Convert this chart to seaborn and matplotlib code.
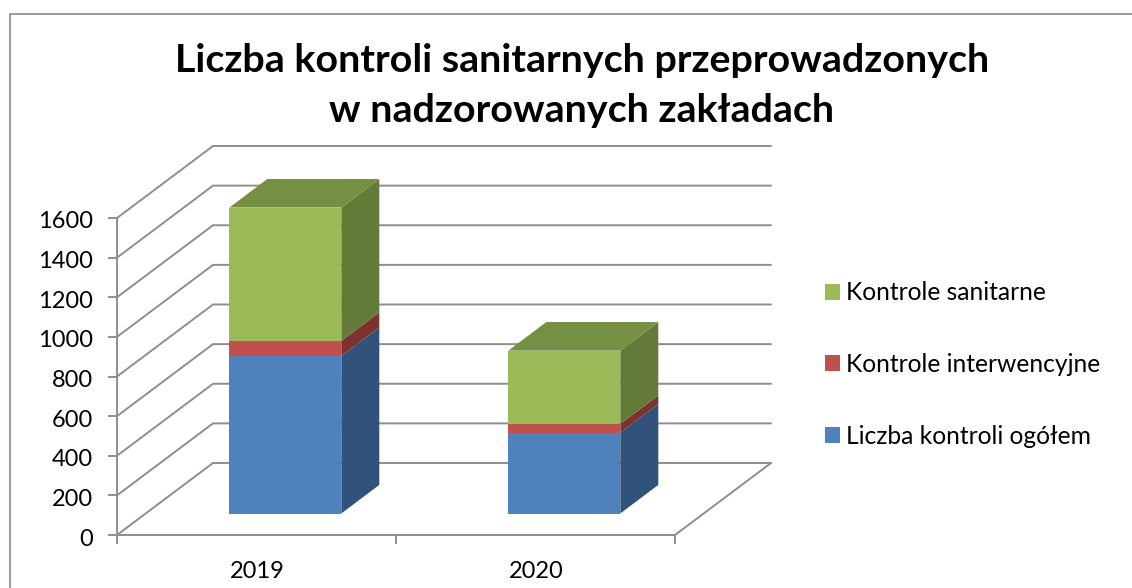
import matplotlib
matplotlib.use("Agg")
import matplotlib.pyplot as plt
from matplotlib.lines import Line2D
from matplotlib.transforms import Affine2D
import pandas as pd
import seaborn as sns

years = ["2019", "2020"]
series_names = ["Liczba kontroli ogółem", "Kontrole interwencyjne", "Kontrole sanitarne"]
total_checks = [795, 408]
intervention_checks = [76, 44]
sanitary_checks = [673, 370]
y_ticks = [0, 200, 400, 600, 800, 1000, 1200, 1400, 1600]
title_lines = "Liczba kontroli sanitarnych przeprowadzonych\nw nadzorowanych zakładach"

front_colors = ["#4F81BD", "#C0504D", "#9BBB59"]
side_colors = ["#31527A", "#7C3330", "#647A38"]
top_color = "#769043"
grid_color = "#8E8E8E"

W, H = 1132, 588
sns.set_theme(style="white")
plt.rcParams["font.family"] = ["Lato", "DejaVu Sans"]

fig = plt.figure(figsize=(W / 100, H / 100), dpi=100, facecolor="white")


def rect(left, right, top, bottom):
    return [left / W, 1 - bottom / H, (right - left) / W, (bottom - top) / H]


ax = fig.add_axes(rect(117, 675, 218, 535))
ax.set_xlim(-0.5, 1.5)
ax.set_ylim(0, 1600)
px_x = 2 / 558
px_y = 1600 / 317
depth_x, depth_y = 96 * px_x, 72 * px_y

# Walls and floor of the 3D box
for v in y_ticks:
    ax.plot([-0.5, -0.5 + depth_x, 1.5 + depth_x], [v, v + depth_y, v + depth_y],
            color=grid_color, lw=1.4, clip_on=False, solid_joinstyle="miter")
ax.plot([1.5, 1.5 + depth_x], [0, depth_y], color=grid_color, lw=1.4, clip_on=False)

for side in ("top", "right"):
    ax.spines[side].set_visible(False)
for side in ("left", "bottom"):
    ax.spines[side].set_color(grid_color)
    ax.spines[side].set_linewidth(1.4)
ax.set_yticks(y_ticks)
ax.set_xticks([-0.5, 0.5, 1.5], labels=[])
ax.set_xticks([0, 1], labels=years, minor=True)
ax.tick_params(axis="both", which="major", length=6.5, width=1.4, color=grid_color,
               left=True, bottom=True, labelsize=17, labelcolor="black", pad=11)
ax.tick_params(axis="x", which="minor", length=0, labelsize=17, labelcolor="black", pad=19)
for label in ax.get_yticklabels():
    label.set_transform(label.get_transform() + Affine2D().translate(0, -2))
for label in ax.get_xticklabels(minor=True):
    label.set_transform(label.get_transform() + Affine2D().translate(1, 0))

# Bars sit on a plane shifted into the depth of the box
ax_bars = fig.add_axes(rect(117 + 28.8, 675 + 28.8, 218 - 21.5, 535 - 21.5))
ax_bars.patch.set_alpha(0)
frame = pd.DataFrame({
    "rok": years,
    series_names[0]: total_checks,
    series_names[1]: intervention_checks,
    series_names[2]: sanitary_checks,
})
bar_w = 112 * px_x
bar_dx, bar_dy = 38 * px_x, 28.6 * px_y
cum = [0, 0]
for name, front, side in zip(series_names, front_colors, side_colors):
    vals = frame[name].tolist()
    sns.barplot(data=frame, x="rok", y=name, bottom=cum, color=front, width=bar_w,
                saturation=1, linewidth=0, ax=ax_bars, errorbar=None, label=name)
    for i, (b, v) in enumerate(zip(cum, vals)):
        xr = i + bar_w / 2
        ax_bars.fill([xr, xr + bar_dx, xr + bar_dx, xr],
                     [b, b + bar_dy, b + v + bar_dy, b + v],
                     color=side, lw=0, clip_on=False)
    cum = [b + v for b, v in zip(cum, vals)]
for i, t in enumerate(cum):
    xl, xr = i - bar_w / 2, i + bar_w / 2
    ax_bars.fill([xl, xr, xr + bar_dx, xl + bar_dx], [t, t, t + bar_dy, t + bar_dy],
                 color=top_color, lw=0, clip_on=False)
ax_bars.set_xlim(-0.5, 1.5)
ax_bars.set_ylim(0, 1600)
ax_bars.axis("off")
for p in ax_bars.patches:
    p.set_clip_on(False)

handles, labels = ax_bars.get_legend_handles_labels()
if ax_bars.get_legend():
    ax_bars.get_legend().remove()
fig.legend(handles[::-1], labels[::-1], loc="center left",
           bbox_to_anchor=(825 / W, 1 - 364.5 / H), frameon=False, fontsize=17.75,
           handlelength=0.6, handleheight=0.6, handletextpad=0.25,
           labelspacing=1.97, borderpad=0, borderaxespad=0, labelcolor="black")

fig.text(582 / W, 1 - 85.5 / H, title_lines, ha="center", va="center", fontsize=28.4,
         fontweight="bold", color="black", linespacing=1.54)

# Chart frame
fig.add_artist(Line2D([10 / W, 10 / W, 1], [0, 1 - 14 / H, 1 - 14 / H],
                      color="#8A8A8A", lw=1.2, transform=fig.transFigure))

fig.savefig("out.png", dpi=100)
